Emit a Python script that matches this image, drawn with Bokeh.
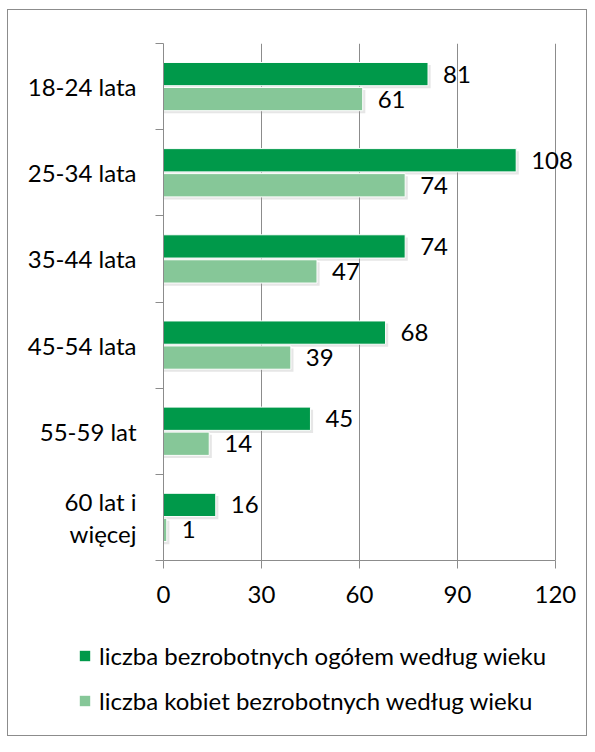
import numpy as np
from bokeh.plotting import figure
from bokeh.layouts import column
from bokeh.models import (ColumnDataSource, Range1d, FixedTicker, Legend, LegendItem)
from bokeh.core.properties import value
from bokeh.embed import file_html
from bokeh.resources import INLINE

categories = ["18-24 lata", "25-34 lata", "35-44 lata", "45-54 lata", "55-59 lat", "60 lat i\nwięcej"]
ogolem = [81, 108, 74, 68, 45, 16]
kobiety = [61, 74, 47, 39, 14, 1]
series_names = ["liczba bezrobotnych ogółem według wieku", "liczba kobiet bezrobotnych według wieku"]
x_ticks = [0, 30, 60, 90, 120]

DARK = "#00994A"
LIGHT = "#86C798"
GRID = "#8C8C8C"
FONT = "Lato"

n = len(categories)
centers = n - np.arange(n) - 0.5
bar_h = 0.27
off = 0.145

src = ColumnDataSource(dict(
    y1=centers + off,
    y2=centers - off,
    y1s=centers + off - 0.03,
    y2s=centers - off - 0.03,
    v1=ogolem,
    v2=kobiety,
    v1s=np.array(ogolem) + 0.8,
    v2s=np.array(kobiety) + 0.8,
    t1=[str(v) for v in ogolem],
    t2=[str(v) for v in kobiety],
))

W = 578
p = figure(width=W, height=610, x_range=Range1d(0, 128), y_range=Range1d(0, n),
           output_backend="svg", toolbar_location=None,
           min_border_left=155, min_border_right=5, min_border_top=33, min_border_bottom=60)
p.outline_line_color = None
p.background_fill_color = "white"
p.border_fill_color = "white"

# shadows
p.hbar(y="y1s", right="v1s", left=0, height=bar_h, source=src, color="#9a9a9a", alpha=0.25, line_color=None)
p.hbar(y="y2s", right="v2s", left=0, height=bar_h, source=src, color="#9a9a9a", alpha=0.25, line_color=None)

r1 = p.hbar(y="y1", right="v1", left=0, height=bar_h, source=src, fill_color=DARK,
            line_color="white", line_width=1)
r2 = p.hbar(y="y2", right="v2", left=0, height=bar_h, source=src, fill_color=LIGHT,
            line_color="white", line_width=1)

p.text(x="v1", y="y1", text="t1", source=src, x_offset=15, text_baseline="middle",
       text_font=value(FONT), text_font_size="24px", text_color="black")
p.text(x="v2", y="y2", text="t2", source=src, x_offset=15, text_baseline="middle",
       text_font=value(FONT), text_font_size="24px", text_color="black")

# x axis
p.xaxis.ticker = FixedTicker(ticks=x_ticks)
p.xaxis.bounds = (0, 120)
p.xaxis.axis_line_color = GRID
p.xaxis.major_tick_line_color = GRID
p.xaxis.major_tick_out = 8
p.xaxis.major_tick_in = 0
p.xaxis.minor_tick_line_color = None
p.xaxis.major_label_text_font = FONT
p.xaxis.major_label_text_font_size = "24px"
p.xaxis.major_label_text_color = "black"
p.xaxis.major_label_standoff = 17

# y axis
p.yaxis.ticker = FixedTicker(ticks=list(centers), minor_ticks=list(range(n + 1)))
p.yaxis.major_label_overrides = {float(c): lab for c, lab in zip(centers, categories)}
p.yaxis.axis_line_color = GRID
p.yaxis.major_tick_line_color = None
p.yaxis.minor_tick_line_color = GRID
p.yaxis.minor_tick_out = 8
p.yaxis.minor_tick_in = 0
p.yaxis.major_label_text_font = FONT
p.yaxis.major_label_text_font_size = "24px"
p.yaxis.major_label_text_color = "black"
p.yaxis.major_label_standoff = 19
p.yaxis.major_label_text_line_height = 1.1

p.xgrid.ticker = FixedTicker(ticks=x_ticks)
p.xgrid.grid_line_color = GRID
p.ygrid.grid_line_color = None

# legend panel
leg = figure(width=W, height=115, x_range=Range1d(0, 1), y_range=Range1d(100, 101),
             x_axis_type=None, y_axis_type=None, output_backend="svg", toolbar_location=None,
             min_border=0)
leg.frame_align = False
leg.outline_line_color = None
leg.xgrid.visible = False
leg.ygrid.visible = False
lr1 = leg.hbar(y="y1", right="v1", left=0, height=bar_h, source=src, fill_color=DARK, line_color=None)
lr2 = leg.hbar(y="y2", right="v2", left=0, height=bar_h, source=src, fill_color=LIGHT, line_color=None)
legend = Legend(items=[LegendItem(label=series_names[0], renderers=[lr1]),
                       LegendItem(label=series_names[1], renderers=[lr2])],
                location=(70, 20), orientation="vertical",
                glyph_width=13, glyph_height=13, label_standoff=8,
                label_text_font=FONT, label_text_font_size="24px", label_text_color="black",
                spacing=16, padding=0, margin=0,
                border_line_color=None, background_fill_alpha=0)
leg.add_layout(legend, "center")

layout = column(p, leg, spacing=0, margin=(9, 0, 0, 7), styles={"border": "1px solid #8C8C8C"})

open("out.html", "w").write(file_html(layout, INLINE))
